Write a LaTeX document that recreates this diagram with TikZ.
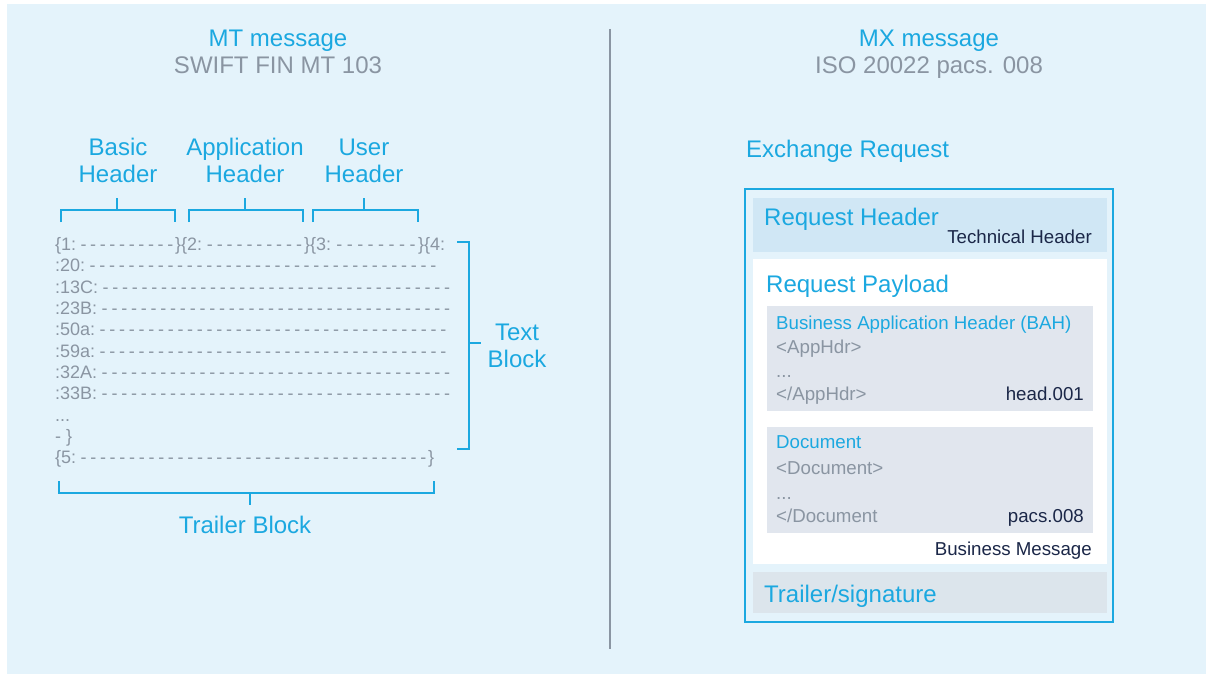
\documentclass[tikz,border=0pt]{standalone}
\usepackage{fontspec}
\setmainfont{Liberation Sans}
\usetikzlibrary{positioning}

\definecolor{bgblue}{HTML}{E4F3FB}
\definecolor{swcyan}{HTML}{1BA8E0}
\definecolor{swgray}{HTML}{8A95A2}
\definecolor{swnavy}{HTML}{1B2748}
\definecolor{hdrblue}{HTML}{D0E7F5}
\definecolor{boxgray}{HTML}{E1E6EE}
\definecolor{trlgray}{HTML}{DCE5EC}

% a run of typed dashes filling a fixed width
\newcommand\dashrun[2]{\hbox to #2pt{#1\kern2.5pt\xleaders\hbox to 9.6pt{\hss-\hss}\hfill}}

\begin{document}
\begin{tikzpicture}[x=1pt, y=-1pt,
  big/.style={font=\fontsize{24}{27}\selectfont, inner sep=0pt},
  small/.style={font=\fontsize{18.7}{21}\selectfont, inner sep=0pt},
  ttl/.style={big, text=swcyan},
  sub/.style={big, text=swgray},
  code/.style={font=\fontsize{18}{21}\selectfont, text=swgray, inner sep=0pt, anchor=base west},
  brk/.style={draw=swcyan, line width=1.8pt},
  panel/.style={inner sep=0pt, outer sep=0pt, anchor=north west},
]
\useasboundingbox (0,0) rectangle (1206,674);
\fill[bgblue] (7,4) rectangle (1206,674);

% MT side
\node[ttl, anchor=base] (mttitle) at (278,47) {MT message};
\node[sub, anchor=base] (mtsub) at (278,74) {SWIFT FIN MT 103};

\node[ttl, align=center] (basic) at (118,160.75) {Basic\\Header};
\node[ttl, align=center] (apphdr) at (245,160.75) {Application\\Header};
\node[ttl, align=center] (userhdr) at (364,160.75) {User\\Header};

\draw[brk] (61,222) -- (61,210) -- (175,210) -- (175,222) (117,210) -- (117,198);
\draw[brk] (189,222) -- (189,210) -- (303,210) -- (303,222) (245,210) -- (245,198);
\draw[brk] (313,222) -- (313,210) -- (418,210) -- (418,222) (364,210) -- (364,198);

\node[code] (b1) at (55,250.6)
  {\dashrun{\{1:}{120}\dashrun{\}\{2:}{129}\dashrun{\}\{3:}{114}\}\{4:};
\node[code] (f20) at (55,271.9) {\dashrun{:20:}{383}};
\node[code] (f13c) at (55,293.2) {\dashrun{:13C:}{397}};
\node[code] (f23b) at (55,314.5) {\dashrun{:23B:}{397}};
\node[code] (f50a) at (55,335.8) {\dashrun{:50a:}{393}};
\node[code] (f59a) at (55,357.1) {\dashrun{:59a:}{393}};
\node[code] (f32a) at (55,378.4) {\dashrun{:32A:}{397}};
\node[code] (f33b) at (55,399.7) {\dashrun{:33B:}{397}};
\node[code] (fdots) at (55,421) {...};
\node[code] (fend) at (55,442.3) {- \}};
\node[code] (b5) at (55,463.6) {\dashrun{\{5:}{373}\}};

\draw[brk] (457,242) -- (469,242) -- (469,449) -- (457,449) (469,343) -- (481,343);
\node[ttl, align=center] (textblk) at (517,345.9) {Text\\Block};

\draw[brk] (59,481) -- (59,493) -- (434,493) -- (434,481) (250,493) -- (250,505);
\node[ttl, anchor=base] (trlblk) at (245,533) {Trailer Block};

\draw[swgray, line width=1.3pt] (610,29) -- (610,649);

% MX side
\node[ttl, anchor=base] (mxtitle) at (929,47) {MX message};
\node[sub, anchor=base] (mxsub) at (929,74) {ISO 20022 pacs. 008};
\node[ttl, anchor=base west] (exreq) at (746,157) {Exchange Request};

\node[panel, draw=swcyan, line width=2pt, minimum width=368, minimum height=433] (frame) at (745,189) {};
\node[panel, fill=hdrblue, minimum width=354, minimum height=54] (reqhdr) at (753,198) {};
\node[panel, fill=white, minimum width=354, minimum height=305] (payload) at (753,259) {};
\node[panel, fill=boxgray, minimum width=326, minimum height=105] (bah) at (767,306) {};
\node[panel, fill=boxgray, minimum width=326, minimum height=106] (doc) at (767,427) {};
\node[panel, fill=trlgray, minimum width=354, minimum height=41] (trailer) at (753,572) {};

\node[ttl, anchor=base west] (reqhdrtxt) at (764,225) {Request Header};
\node[small, text=swnavy, anchor=base east] (techhdr) at (1092,243) {Technical Header};
\node[ttl, anchor=base west] (paytxt) at (766,292) {Request Payload};

\node[small, text=swcyan, anchor=base west] (bahtxt) at (776,329) {Business Application Header (BAH)};
\node[small, text=swgray, anchor=base west] (appo) at (776,353) {<AppHdr>};
\node[small, text=swgray, anchor=base west] (appd) at (776,377) {...};
\node[small, text=swgray, anchor=base west] (appc) at (776,400) {</AppHdr>};
\node[small, text=swnavy, anchor=base east] (head) at (1084,400) {head.001};

\node[small, text=swcyan, anchor=base west] (doctxt) at (776,448) {Document};
\node[small, text=swgray, anchor=base west] (doco) at (776,474) {<Document>};
\node[small, text=swgray, anchor=base west] (docd) at (776,499) {...};
\node[small, text=swgray, anchor=base west] (docc) at (776,522) {</Document};
\node[small, text=swnavy, anchor=base east] (pacs) at (1084,522) {pacs.008};

\node[small, text=swnavy, anchor=base east] (bizmsg) at (1092,555) {Business Message};
\node[ttl, anchor=base west] (trltxt) at (764,602) {Trailer/signature};
\end{tikzpicture}
\end{document}
